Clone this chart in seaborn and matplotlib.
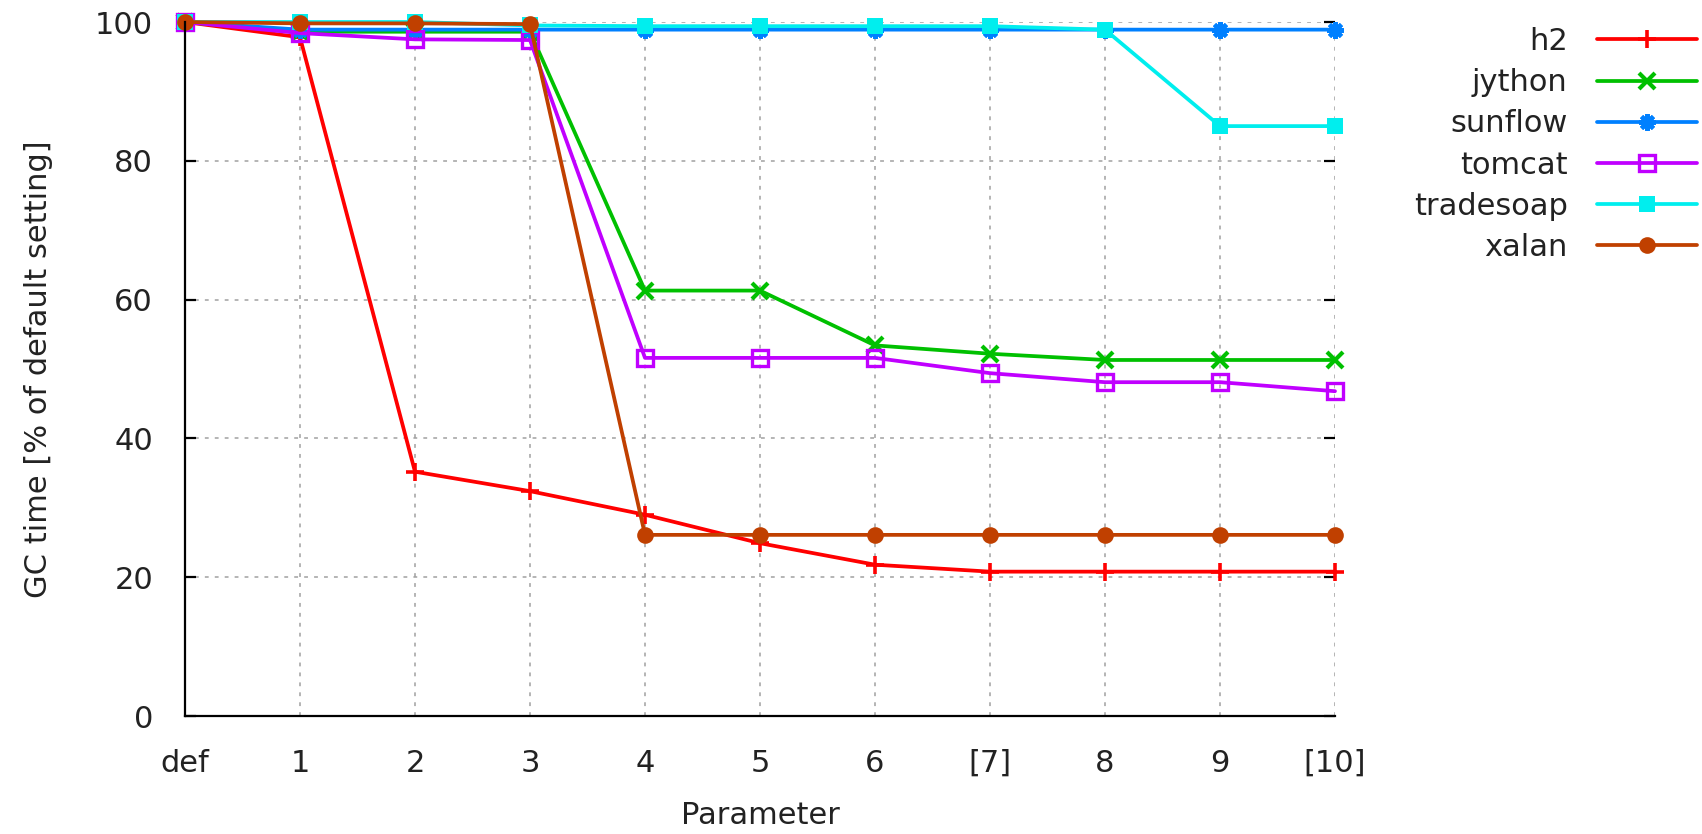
import matplotlib
matplotlib.use("Agg")
import matplotlib.pyplot as plt
import seaborn as sns
import pandas as pd

# Parameter settings along the x axis
params = ["def", "1", "2", "3", "4", "5", "6", "[7]", "8", "9", "[10]"]

# GC time per benchmark, percent of the default setting
h2 = [100, 97.8, 35.2, 32.4, 29.0, 24.9, 21.8, 20.8, 20.8, 20.8, 20.8]
jython = [100, 98.6, 98.6, 98.6, 61.3, 61.3, 53.4, 52.2, 51.3, 51.3, 51.3]
sunflow = [100, 98.9, 98.9, 98.9, 98.9, 98.9, 98.9, 98.9, 98.9, 98.9, 98.9]
tomcat = [100, 98.4, 97.5, 97.4, 51.6, 51.6, 51.6, 49.4, 48.1, 48.1, 46.8]
tradesoap = [100, 100, 100, 99.5, 99.4, 99.4, 99.4, 99.4, 98.9, 85.0, 85.0]
xalan = [100, 99.8, 99.8, 99.7, 26.1, 26.1, 26.1, 26.1, 26.1, 26.1, 26.1]

series_names = ["h2", "jython", "sunflow", "tomcat", "tradesoap", "xalan"]
series_values = [h2, jython, sunflow, tomcat, tradesoap, xalan]
colors = ["#ff0000", "#00c000", "#0080ff", "#c000ff", "#00eeee", "#c04000"]

FS = 22

sns.set_style("white")
plt.rcParams["font.family"] = ["DejaVu Sans"]
plt.rcParams["font.size"] = FS

fig = plt.figure(figsize=(17.02, 8.34), dpi=100)
ax = fig.add_axes([185 / 1702, 1 - 716 / 834, (1335 - 185) / 1702, (716 - 22) / 834])

marker_styles = [
    dict(marker="+", markersize=13, markeredgewidth=2.6),
    dict(marker="x", markersize=11, markeredgewidth=3.0),
    dict(marker=(8, 2, 0), markersize=12, markeredgewidth=3.0),
    dict(marker="s", markersize=11, markeredgewidth=2.4, markerfacecolor="none"),
    dict(marker="s", markersize=12, markeredgewidth=0),
    dict(marker="o", markersize=12, markeredgewidth=0),
]

x_pos = list(range(len(params)))
for name, vals, col, mst in zip(series_names, series_values, colors, marker_styles):
    df = pd.DataFrame({"x": x_pos, "y": vals})
    sns.lineplot(data=df, x="x", y="y", ax=ax, color=col, linewidth=2.7,
                 label=name, clip_on=False, markeredgecolor=col, **mst)

ax.set_xlim(0, 10)
ax.set_ylim(0, 100)
ax.set_xticks(x_pos)
ax.set_xticklabels(params)
ax.set_yticks([0, 20, 40, 60, 80, 100])

ax.grid(True, color="#a0a0a0", linestyle=(0, (2.5, 4)), linewidth=1.1)
for side in ["top", "right"]:
    ax.spines[side].set_visible(False)
for side in ["left", "bottom"]:
    ax.spines[side].set_color("black")
    ax.spines[side].set_linewidth(1.6)

ax.tick_params(axis="y", which="both", left=True, right=True, direction="in",
               length=8, width=1.6, color="black", pad=23, labelsize=FS,
               labelcolor="#222222")
ax.tick_params(axis="x", which="both", bottom=False, pad=20, labelsize=FS,
               labelcolor="#222222")

ax.set_xlabel("Parameter", fontsize=FS, labelpad=17, color="#222222")
ax.set_ylabel("GC time [% of default setting]", fontsize=FS, labelpad=30,
              color="#222222")

leg = ax.legend(loc="upper right", bbox_to_anchor=(1697 / 1702, 1 - 27 / 834),
                bbox_transform=fig.transFigure, frameon=False, markerfirst=False,
                handlelength=3.28, handletextpad=0.95, labelspacing=0.4,
                borderpad=0, borderaxespad=0, fontsize=FS)
for t in leg.get_texts():
    t.set_color("#222222")

fig.savefig("out.png", dpi=100)
